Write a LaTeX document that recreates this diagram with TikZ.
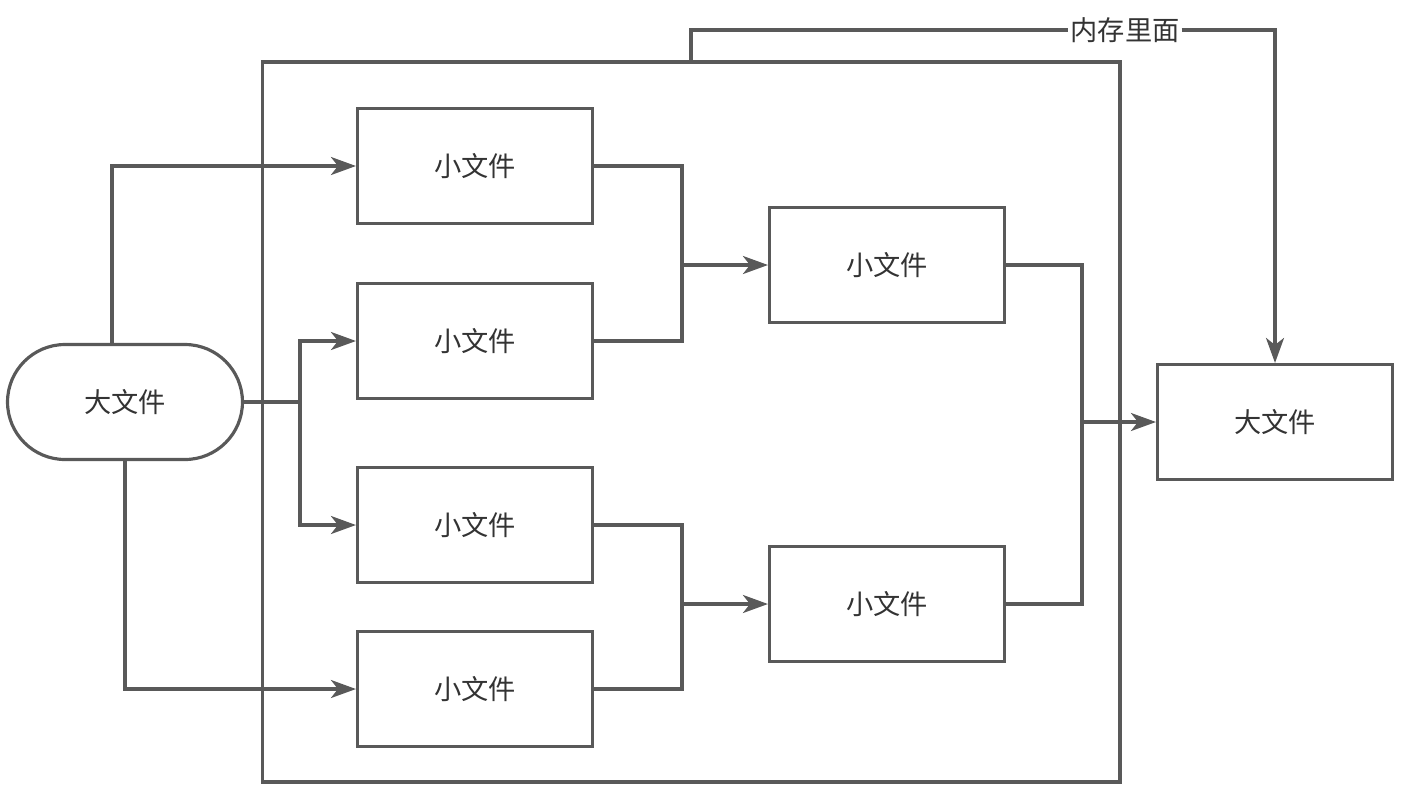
\documentclass[tikz,border=0pt]{standalone}
\usepackage{fontspec}
\newfontfamily\cjk{Noto Sans CJK SC}
\usetikzlibrary{arrows.meta,shapes.misc}
\definecolor{linegray}{HTML}{595959}
\definecolor{textgray}{HTML}{333333}
\tikzset{
	filetext/.style={text=textgray,font=\cjk\fontsize{15.5}{18}\selectfont},
	filebox/.style={filetext,draw=linegray,line width=1.8pt,minimum width=4.7cm,minimum height=2.3cm,inner sep=0pt},
	wire/.style={draw=linegray,line width=1.8pt},
	arrow/.style={wire,-{Stealth[length=0.5cm,width=0.36cm,inset=0.14cm]}}
}

\begin{document}
\begin{tikzpicture}[x=0.02cm,y=-0.02cm]
	\useasboundingbox (0,0) rectangle (1402,789);
	% outer frame
	\node[wire,minimum width=17.16cm,minimum height=14.4cm,inner sep=0pt] (frame) at (691,422) {};
	% files
	\node[filebox,rounded rectangle] (big) at (125,402) {大文件};
	\node[filebox] (s1) at (475,166) {小文件};
	\node[filebox] (s2) at (475,341) {小文件};
	\node[filebox] (s3) at (475,525) {小文件};
	\node[filebox] (s4) at (475,689) {小文件};
	\node[filebox] (m1) at (887,265) {小文件};
	\node[filebox] (m2) at (887,604) {小文件};
	\node[filebox] (out) at (1275,422) {大文件};
	\node[filetext,inner xsep=1pt,inner ysep=0pt] (mem) at (1125,30) {内存里面};
	% joints
	\coordinate (split) at (300,402);
	\coordinate (j1) at (682,265);
	\coordinate (j2) at (682,604);
	\coordinate (j3) at (1082,422);
	% split
	\draw[arrow] ([xshift=-0.26cm]big.north) |- (s1);
	\draw[wire] (big.east) -- (split);
	\draw[arrow] (split) |- (s2);
	\draw[arrow] (split) |- (s3);
	\draw[arrow] (big.south) |- (s4);
	% merge
	\draw[wire] (s1) -| (j1);
	\draw[wire] (s2) -| (j1);
	\draw[arrow] (j1) -- (m1);
	\draw[wire] (s3) -| (j2);
	\draw[wire] (s4) -| (j2);
	\draw[arrow] (j2) -- (m2);
	\draw[wire] (m1) -| (j3);
	\draw[wire] (m2) -| (j3);
	\draw[arrow] (j3) -- (out);
	% memory
	\draw[wire] (frame.north) |- (mem);
	\draw[arrow] (mem) -| (out.north);
\end{tikzpicture}
\end{document}
